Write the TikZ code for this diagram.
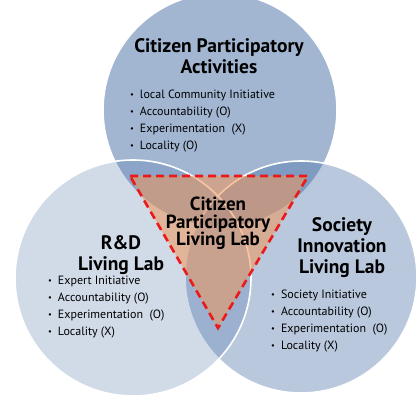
\documentclass[tikz,border=0pt]{standalone}
\usepackage{fontspec}
\setmainfont{PT Sans}

\definecolor{vennblue}{RGB}{70,110,165}
\definecolor{coreorange}{RGB}{240,150,90}
\definecolor{dashred}{RGB}{235,25,25}

% small bullet in front of each list entry
\newcommand{\bul}{\raisebox{0.25ex}{\scalebox{0.7}{\textbullet}}\hspace{0.5em}}

\tikzset{
	venn/.style={fill=vennblue, fill opacity=#1, draw=white, line width=1.6pt},
	core/.style={fill=coreorange, fill opacity=0.55, draw=dashred, line width=2.6pt,
		dash pattern=on 8pt off 5pt, line join=miter},
	head/.style={font=\fontsize{19.5}{21}\selectfont\bfseries, align=center, inner sep=0pt},
	corehead/.style={font=\fontsize{19}{17.5}\selectfont\bfseries, align=center, inner sep=0pt},
	items/.style={font=\fontsize{12}{17}\selectfont, align=left, inner sep=0pt, anchor=north west},
}

\begin{document}
\begin{tikzpicture}[x=1pt, y=-1pt]
	\useasboundingbox (0,0) rectangle (420,399);
	\begin{scope}
		\clip (0,0) rectangle (420,399);
		% the three circles, top first, left one last
		\draw[venn=0.5] (220,110) circle (117);
		\draw[venn=0.38] (301,277) circle (116);
		\draw[venn=0.25] (133,278) circle (118);
	\end{scope}

	% shared part in the middle
	\coordinate (tl) at (130,176);
	\coordinate (tr) at (308,176);
	\coordinate (bt) at (218,328);
	\draw[core] (tl) -- (tr) -- (bt) -- cycle;

	\node[head, anchor=north] (acttitle) at (219,38) {Citizen Participatory\\Activities};
	\node[items] (actlist) at (130,90) {\bul local Community Initiative\\
		\bul Accountability (O)\\ \bul Experimentation\ \ (X)\\ \bul Locality (O)};

	\node[head, anchor=north] (rdtitle) at (121,235) {R\&D\\Living Lab};
	\node[items] (rdlist) at (48,276) {\bul Expert Initiative\\
		\bul Accountability (O)\\ \bul Experimentation\ \ (O)\\ \bul Locality (X)};

	\node[head, anchor=north] (sititle) at (342,217) {Society\\Innovation\\Living Lab};
	\node[items] (silist) at (271,290) {\bul Society Initiative\\
		\bul Accountability (O)\\ \bul Experimentation\ \ (O)\\ \bul Locality (X)};

	\node[corehead, anchor=north] (coretitle) at (218,197) {Citizen\\Participatory\\Living Lab};
\end{tikzpicture}
\end{document}
